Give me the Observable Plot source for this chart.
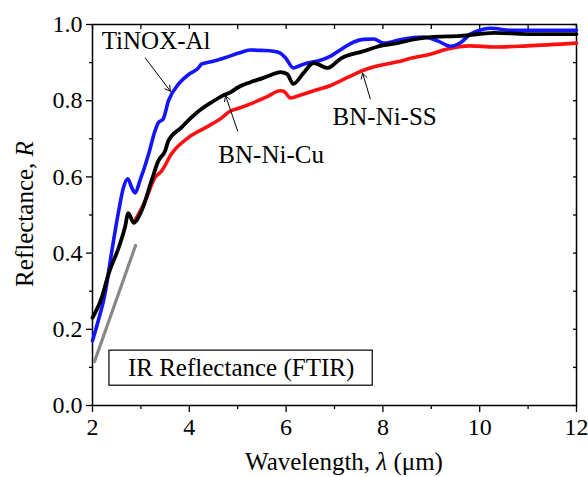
<!DOCTYPE html>
<html>
<head>
<meta charset="utf-8">
<script src="https://cdn.jsdelivr.net/npm/d3@7"></script>
<script src="https://cdn.jsdelivr.net/npm/@observablehq/plot@0.6"></script>
<style>
  html, body { margin: 0; padding: 0; background: #fff; }
  svg text { font-family: "Liberation Serif", "Times New Roman", serif !important; }
</style>
</head>
<body>
<div id="chart"></div>
<script>
// ---- data ----
const tinoxX = [2.0, 2.12, 2.26, 2.39, 2.54, 2.64, 2.73, 2.81, 2.88, 2.98, 3.16, 3.29, 3.36, 3.46, 3.57, 3.78, 4.0, 4.19, 4.25, 4.45, 4.67, 5.02, 5.26, 5.5, 5.74, 5.88, 5.99, 6.15, 6.3, 6.44, 6.71, 6.92, 7.19, 7.4, 7.6, 7.81, 8.01, 8.2, 8.43, 8.84, 9.13, 9.4, 9.6, 9.81, 10.0, 10.22, 10.64, 11.0, 11.5, 12.0];
const tinoxR = [0.17, 0.223, 0.294, 0.398, 0.51, 0.572, 0.595, 0.572, 0.558, 0.59, 0.66, 0.72, 0.742, 0.752, 0.80, 0.844, 0.87, 0.886, 0.896, 0.902, 0.91, 0.925, 0.933, 0.932, 0.93, 0.925, 0.912, 0.886, 0.893, 0.899, 0.906, 0.917, 0.939, 0.954, 0.961, 0.962, 0.951, 0.955, 0.962, 0.967, 0.957, 0.943, 0.952, 0.975, 0.985, 0.99, 0.985, 0.985, 0.985, 0.985];

const cuX = [2.0, 2.19, 2.33, 2.54, 2.67, 2.74, 2.85, 3.01, 3.22, 3.36, 3.5, 3.57, 3.84, 4.05, 4.25, 4.45, 4.67, 4.85, 5.02, 5.25, 5.53, 5.7, 5.88, 6.02, 6.15, 6.36, 6.57, 6.86, 7.12, 7.6, 7.95, 8.3, 8.6, 8.98, 9.6, 10.3, 10.98, 12.0];
const cuR = [0.23, 0.283, 0.345, 0.414, 0.467, 0.505, 0.48, 0.51, 0.59, 0.642, 0.668, 0.695, 0.73, 0.757, 0.778, 0.795, 0.812, 0.822, 0.836, 0.848, 0.86, 0.868, 0.875, 0.87, 0.844, 0.873, 0.899, 0.886, 0.91, 0.93, 0.944, 0.951, 0.96, 0.967, 0.97, 0.978, 0.975, 0.975];

const ssX = [2.85, 3.09, 3.29, 3.43, 3.63, 3.98, 4.33, 4.67, 4.85, 5.02, 5.33, 5.6, 5.88, 5.95, 6.09, 6.3, 6.57, 6.92, 7.27, 7.6, 7.95, 8.3, 8.6, 8.98, 9.33, 9.81, 10.29, 10.98, 12.0];
const ssR = [0.48, 0.537, 0.598, 0.616, 0.66, 0.703, 0.729, 0.755, 0.773, 0.78, 0.795, 0.81, 0.826, 0.825, 0.807, 0.815, 0.826, 0.84, 0.861, 0.88, 0.893, 0.902, 0.912, 0.922, 0.936, 0.944, 0.941, 0.944, 0.951];

const grayX = [2.04, 2.89];
const grayR = [0.115, 0.42];

const xMajor = [2, 4, 6, 8, 10, 12];
const xMinor = [3, 5, 7, 9, 11];
const yMajor = [0, 0.2, 0.4, 0.6, 0.8, 1.0];
const yMinor = [0.1, 0.3, 0.5, 0.7, 0.9];

const labelNames = ["TiNOX-Al", "BN-Ni-Cu", "BN-Ni-SS"];
const labelX = [2.19, 4.60, 6.96];
const labelY = [0.957, 0.658, 0.758];

const arrowX1 = [3.09, 5.00, 7.74];
const arrowY1 = [0.912, 0.72, 0.805];
const arrowX2 = [3.61, 4.75, 7.58];
const arrowY2 = [0.825, 0.813, 0.872];

const boxText = "IR Reflectance (FTIR)";
const boxX = [2.35, 7.79];
const boxY = [0.052, 0.144];

// ---- build tables ----
const toRows = (xs, ys) => xs.map((x, i) => ({x, y: ys[i]}));
const labels = labelNames.map((t, i) => ({t, x: labelX[i], y: labelY[i]}));
const arrows = arrowX1.map((x1, i) => ({x1, y1: arrowY1[i], x2: arrowX2[i], y2: arrowY2[i]}));

const font = "Liberation Serif, Times New Roman, serif";

const chart = Plot.plot({
  width: 588,
  height: 477,
  marginLeft: 92,
  marginRight: 12,
  marginTop: 24,
  marginBottom: 72,
  x: {domain: [2, 12]},
  y: {domain: [0, 1]},
  style: {fontFamily: font, fontSize: "24px", color: "black", background: "white", overflow: "visible"},
  marks: [
    Plot.axisX({ticks: xMajor, tickSize: 7, tickPadding: 5, tickFormat: d => String(d), label: null, strokeWidth: 1.3, fontSize: 24}),
    Plot.axisX({ticks: xMinor, tickSize: 4, tickFormat: () => "", label: null, strokeWidth: 1.3}),
    Plot.axisX({anchor: "top", ticks: xMajor.concat(xMinor), tickSize: -4, tickFormat: () => "", label: null, strokeWidth: 1.3}),
    Plot.axisY({ticks: yMajor, tickSize: 6, tickPadding: 4, tickFormat: d3.format(".1f"), label: null, strokeWidth: 1.3, fontSize: 24}),
    Plot.axisY({ticks: yMinor, tickSize: 3, tickFormat: () => "", label: null, strokeWidth: 1.3}),
    Plot.axisY({anchor: "right", ticks: yMajor.concat(yMinor), tickSize: -4, tickFormat: () => "", label: null, strokeWidth: 1.3}),
    Plot.frame({stroke: "black", strokeWidth: 1.5}),
    Plot.rect([{x1: boxX[0], x2: boxX[1], y1: boxY[0], y2: boxY[1]}], {x1: "x1", x2: "x2", y1: "y1", y2: "y2", fill: "white", stroke: "black", strokeWidth: 1.2}),
    Plot.text([boxText], {x: (boxX[0] + boxX[1]) / 2, y: (boxY[0] + boxY[1]) / 2, text: d => d, fontSize: 25, fill: "black"}),
    Plot.line(toRows(grayX, grayR), {x: "x", y: "y", stroke: "#888888", strokeWidth: 3.2}),
    Plot.line(toRows(ssX, ssR), {x: "x", y: "y", stroke: "#ff1010", strokeWidth: 3.6, curve: "monotone-x"}),
    Plot.line(toRows(tinoxX, tinoxR), {x: "x", y: "y", stroke: "#1414ff", strokeWidth: 3.6, curve: "monotone-x"}),
    Plot.line(toRows(cuX, cuR), {x: "x", y: "y", stroke: "black", strokeWidth: 3.8, curve: "monotone-x"}),
    Plot.arrow(arrows, {x1: "x1", y1: "y1", x2: "x2", y2: "y2", stroke: "black", strokeWidth: 1, headLength: 9, bend: 0}),
    Plot.text(labels, {x: "x", y: "y", text: "t", textAnchor: "start", fontSize: 25, fill: "black"})
  ]
});

const svg = d3.select(chart);
svg.selectAll("text").style("font-family", font);

const yl = svg.append("text")
  .attr("transform", "translate(33,214) rotate(-90)")
  .attr("text-anchor", "middle")
  .style("font-family", font)
  .attr("font-size", 25)
  .attr("fill", "black");
yl.append("tspan").text("Reflectance, ");
yl.append("tspan").attr("font-style", "italic").text("R");

const xl = svg.append("text")
  .attr("x", 344)
  .attr("y", 470)
  .attr("text-anchor", "middle")
  .style("font-family", font)
  .attr("font-size", 25)
  .attr("fill", "black");
xl.append("tspan").text("Wavelength, ");
xl.append("tspan").attr("font-style", "italic").text("λ");
xl.append("tspan").text(" (μm)");

document.getElementById("chart").appendChild(chart);
</script>
</body>
</html>
